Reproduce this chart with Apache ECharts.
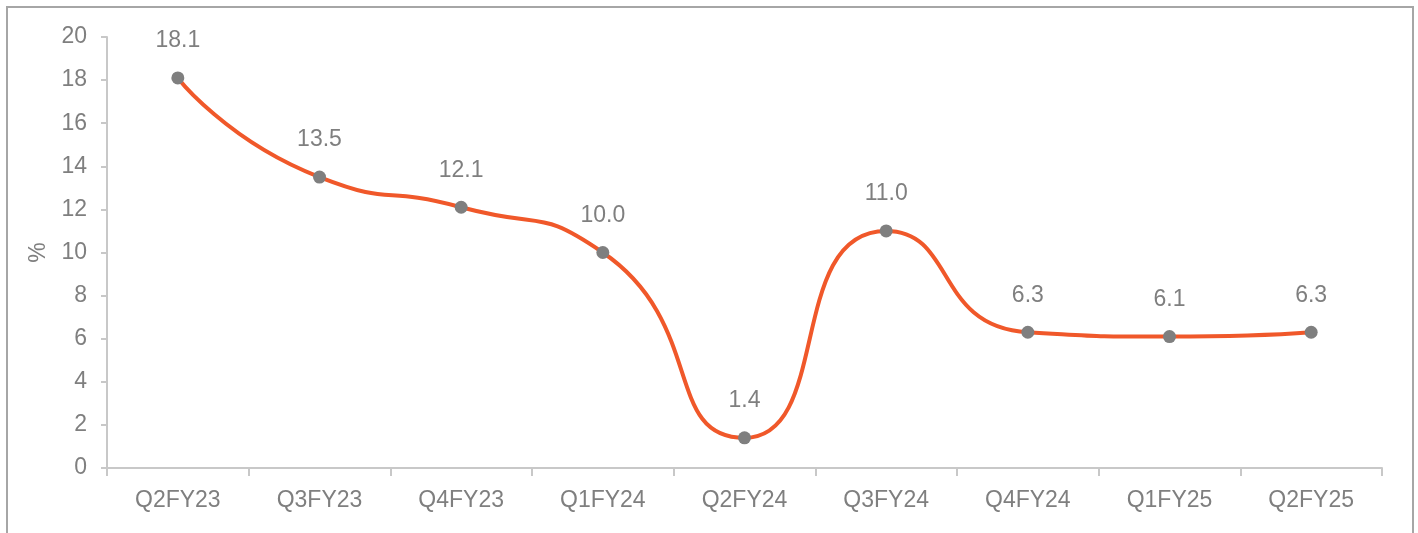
<!DOCTYPE html>
<html>
<head>
    <meta charset="utf-8">
    <title>Growth %</title>
    <script src="https://cdn.jsdelivr.net/npm/echarts@6/dist/echarts.min.js"></script>
    <style>
        html, body { margin: 0; padding: 0; background: #fff; }
    </style>
</head>
<body>
<div id="main" style="width: 1418px;height:533px;"></div>
<script type="text/javascript">

    // data
    let quarters = ['Q2FY23', 'Q3FY23', 'Q4FY23', 'Q1FY24', 'Q2FY24', 'Q3FY24', 'Q4FY24', 'Q1FY25', 'Q2FY25'];
    let growth = [18.1, 13.5, 12.1, 10.0, 1.4, 11.0, 6.3, 6.1, 6.3];
    let yTicks = [0, 20, 2]; // min, max, step

    let font = '"Liberation Sans Narrow", "Liberation Sans", Arial, sans-serif';
    let grey = '#7f7f7f';

    let option = {
        animation: false,
        grid: { left: 107, right: 36, top: 37, bottom: 65 },
        graphic: [{
            type: 'rect',
            shape: { x: 7, y: 7, width: 1406, height: 560 },
            style: { fill: 'none', stroke: '#a6a6a6', lineWidth: 2 },
            silent: true
        }],
        xAxis: {
            type: 'category',
            data: quarters,
            boundaryGap: true,
            axisLine: { lineStyle: { color: '#c8c8c8', width: 2 } },
            axisTick: { show: true, length: 8, lineStyle: { color: '#c8c8c8', width: 2 } },
            axisLabel: { color: grey, fontSize: 23, fontFamily: font, margin: 21 },
            splitLine: { show: false }
        },
        yAxis: {
            type: 'value',
            min: yTicks[0],
            max: yTicks[1],
            interval: yTicks[2],
            name: '%',
            nameLocation: 'middle',
            nameGap: 52,
            nameRotate: 90,
            nameTextStyle: { color: grey, fontSize: 23, fontFamily: font },
            axisLine: { show: true, lineStyle: { color: '#c8c8c8', width: 2 } },
            axisTick: { show: true, length: 6, lineStyle: { color: '#c8c8c8', width: 2 } },
            axisLabel: { color: grey, fontSize: 23, fontFamily: font, margin: 20 },
            splitLine: { show: false }
        },
        series: [{
            type: 'line',
            data: growth,
            smooth: 0.6,
            symbol: 'circle',
            symbolSize: 13,
            itemStyle: { color: '#7f7f7f' },
            lineStyle: { color: '#f0582a', width: 4 },
            label: {
                show: true,
                position: 'top',
                distance: 19,
                color: grey,
                fontSize: 23,
                fontFamily: font,
                formatter: function (p) { return p.value.toFixed(1); }
            }
        }]
    };

    let myChart = echarts.init(document.getElementById('main'));
    myChart.setOption(option);
</script>
</body>
</html>
